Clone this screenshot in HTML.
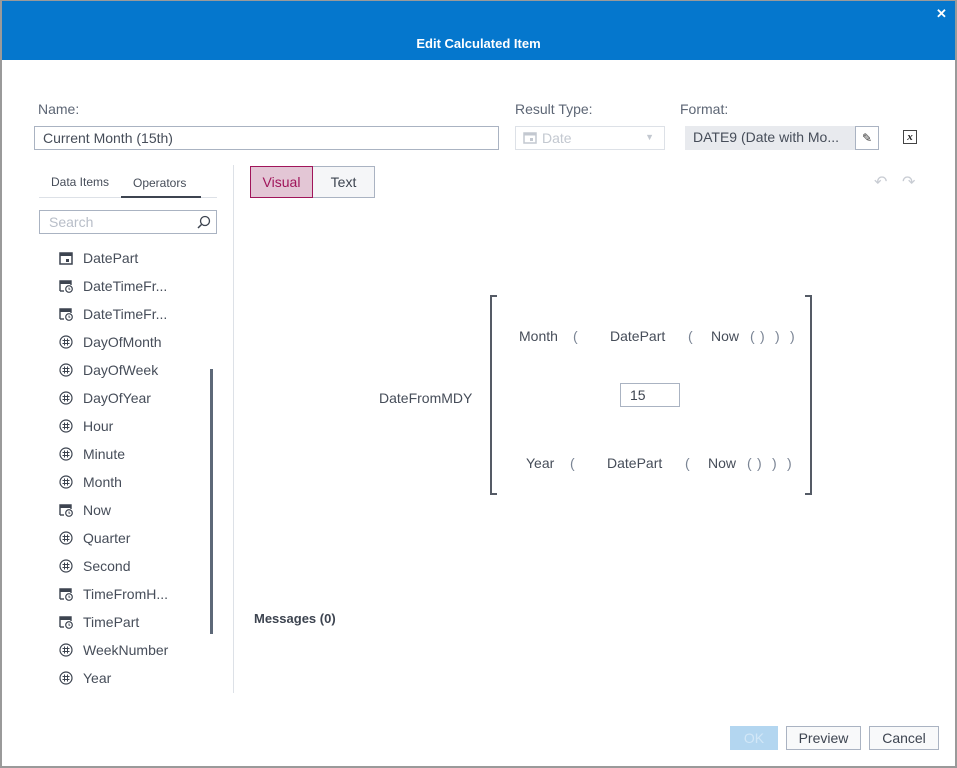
<!DOCTYPE html>
<html><head><meta charset="utf-8"><style>
*{box-sizing:border-box;margin:0;padding:0}
body{width:957px;height:768px;position:relative;background:#fff;font-family:"Liberation Sans",sans-serif;color:#3d4450;overflow:hidden}
.a{position:absolute;white-space:nowrap}
.frame{position:absolute;left:0;top:0;width:957px;height:768px;border:2px solid #9a9a9a;border-top-width:1px}
.hdr{position:absolute;left:2px;top:1px;width:953px;height:59px;background:#0577cd}
.lbl{font-size:14px;color:#5d6675}
.li{font-size:14px;color:#464d59}
.ic{position:absolute;left:59px;width:14px;height:14px}
.g{font-size:14px;color:#464d59}
.p{font-size:14px;color:#7a8494}
</style></head><body>
<div class="hdr"></div>
<div class="a" style="left:0;top:36px;width:957px;text-align:center;color:#fff;font-weight:bold;font-size:13px">Edit Calculated Item</div>
<div class="a" style="left:936px;top:6px;color:#fff;font-weight:bold;font-size:13px">✕</div>
<div class="frame"></div>

<div class="a lbl" style="left:38px;top:101px">Name:</div>
<div class="a" style="left:34px;top:126px;width:465px;height:24px;border:1px solid #aab3c2;font-size:14px;padding:3px 8px;color:#464d59">Current Month (15th)</div>
<div class="a lbl" style="left:515px;top:101px">Result Type:</div>
<div class="a" style="left:515px;top:126px;width:150px;height:24px;border:1px solid #dde1e7;font-size:14px;color:#c3c8d0;padding:3px 0 0 26px">Date<span style="position:absolute;right:10px;top:5px;font-size:9px">▼</span></div>
<svg class="a" style="left:523px;top:130px" width="14" height="14"><rect x="1" y="3" width="12" height="10" fill="none" stroke="#c3c8d0" stroke-width="1.5"/><rect x="1" y="3" width="12" height="2.5" fill="#c3c8d0"/><rect x="7" y="8" width="3" height="3" fill="#c3c8d0"/></svg>
<div class="lbl a" style="left:680px;top:101px">Format:</div>
<div class="a" style="left:685px;top:126px;width:170px;height:24px;background:#e8eaee;font-size:14px;padding:3px 8px;color:#464d59">DATE9 (Date with Mo...</div>
<div class="a" style="left:855px;top:126px;width:24px;height:24px;border:1px solid #aab3c2;background:#fff;font-size:12px;text-align:center;line-height:22px;color:#333">✎</div>
<div class="a" style="left:903px;top:130px;width:14px;height:14px;border:1px solid #444;font-family:'Liberation Serif',serif;font-style:italic;font-weight:bold;font-size:11px;text-align:center;line-height:12px;color:#222">x</div>

<div class="a" style="left:51px;top:175px;font-size:12px;color:#464d59">Data Items</div>
<div class="a" style="left:133px;top:176px;font-size:12px;color:#464d59">Operators</div>
<div class="a" style="left:39px;top:197px;width:178px;height:1px;background:#dde1e7"></div>
<div class="a" style="left:121px;top:196px;width:80px;height:2px;background:#3d4450"></div>
<div class="a" style="left:39px;top:210px;width:178px;height:24px;border:1px solid #aab3c2;font-size:14px;color:#b8bec8;padding:3px 9px">Search</div>
<svg class="a" style="left:196px;top:214px" width="16" height="16"><circle cx="9" cy="7" r="4.5" fill="none" stroke="#3d4450" stroke-width="1.3"/><line x1="5.5" y1="10.5" x2="2" y2="14" stroke="#3d4450" stroke-width="1.5"/></svg>
<div class="a" style="left:233px;top:165px;width:1px;height:528px;background:#dde1e7"></div>
<div class="a" style="left:210px;top:369px;width:3px;height:265px;background:#5d6878"></div>

<div class="a" style="left:250px;top:166px;width:63px;height:32px;background:#e3c6d5;border:1px solid #a0155a;font-size:14px;color:#a0155a;text-align:center;line-height:30px">Visual</div>
<div class="a" style="left:313px;top:166px;width:62px;height:32px;background:#f5f6f8;border:1px solid #aab3c2;border-left:none;font-size:14px;text-align:center;line-height:30px">Text</div>
<div class="a" style="left:874px;top:172px;font-size:16px;color:#c8ccd3">↶</div>
<div class="a" style="left:902px;top:172px;font-size:16px;color:#c8ccd3">↷</div>

<div id="list"></div>
<script>
var items=[["DatePart","d"],["DateTimeFr...","c"],["DateTimeFr...","c"],["DayOfMonth","n"],["DayOfWeek","n"],["DayOfYear","n"],["Hour","n"],["Minute","n"],["Month","n"],["Now","c"],["Quarter","n"],["Second","n"],["TimeFromH...","c"],["TimePart","c"],["WeekNumber","n"],["Year","n"]];
var h="";
items.forEach(function(it,i){var y=258+i*28;
h+='<div class="a li" style="left:83px;top:'+(y-8)+'px">'+it[0]+'</div>';
var s='<svg class="ic" style="top:'+(y-7)+'px" width="14" height="14">';
if(it[1]=="n"){s+='<circle cx="7" cy="7" r="6" fill="none" stroke="#3d4450" stroke-width="1.2"/><path d="M5.5 3.5v7M8.5 3.5v7M3.5 5.5h7M3.5 8.5h7" stroke="#3d4450" stroke-width="1"/>';}
else if(it[1]=="d"){s+='<rect x="1" y="2" width="12" height="11" fill="none" stroke="#3d4450" stroke-width="1.5"/><rect x="1" y="2" width="12" height="3" fill="#3d4450"/><rect x="7" y="8" width="3" height="3" fill="#3d4450"/>';}
else{s+='<path d="M1 12V2h11v4" fill="none" stroke="#3d4450" stroke-width="1.4"/><rect x="1" y="2" width="11" height="3" fill="#3d4450"/><path d="M1 12h4" stroke="#3d4450" stroke-width="1.4"/><circle cx="10" cy="10" r="3.3" fill="#fff" stroke="#3d4450" stroke-width="1.2"/><path d="M10 8.5v1.7h1.3" stroke="#3d4450" stroke-width="0.9" fill="none"/>';}
s+='</svg>';h+=s;});
document.getElementById("list").innerHTML=h;
</script>

<div class="a g" style="left:379px;top:390px">DateFromMDY</div>
<svg class="a" style="left:489px;top:295px" width="325" height="201"><path d="M8 1H2V199H8M316 1H322V199H316" fill="none" stroke="#555b66" stroke-width="2"/></svg>
<div class="a g" style="left:519px;top:328px">Month</div>
<div class="a p" style="left:573px;top:328px">(</div>
<div class="a g" style="left:610px;top:328px">DatePart</div>
<div class="a p" style="left:688px;top:328px">(</div>
<div class="a g" style="left:711px;top:328px">Now</div>
<div class="a p" style="left:750px;top:328px">(</div>
<div class="a p" style="left:760px;top:328px">)</div>
<div class="a p" style="left:775px;top:328px">)</div>
<div class="a p" style="left:790px;top:328px">)</div>
<div class="a" style="left:620px;top:383px;width:60px;height:24px;border:1px solid #aab3c2;font-size:14px;padding:3px 9px">15</div>
<div class="a g" style="left:526px;top:455px">Year</div>
<div class="a p" style="left:570px;top:455px">(</div>
<div class="a g" style="left:607px;top:455px">DatePart</div>
<div class="a p" style="left:685px;top:455px">(</div>
<div class="a g" style="left:708px;top:455px">Now</div>
<div class="a p" style="left:747px;top:455px">(</div>
<div class="a p" style="left:757px;top:455px">)</div>
<div class="a p" style="left:772px;top:455px">)</div>
<div class="a p" style="left:787px;top:455px">)</div>

<div class="a" style="left:254px;top:611px;font-size:13px;font-weight:bold;color:#3d4450">Messages (0)</div>

<div class="a" style="left:730px;top:726px;width:48px;height:24px;background:#b3d6f0;color:#d2e7f7;font-size:14px;text-align:center;line-height:24px">OK</div>
<div class="a" style="left:786px;top:726px;width:75px;height:24px;border:1px solid #aab3c2;background:#f8f9fa;font-size:14px;text-align:center;line-height:22px">Preview</div>
<div class="a" style="left:869px;top:726px;width:70px;height:24px;border:1px solid #aab3c2;background:#f8f9fa;font-size:14px;text-align:center;line-height:22px">Cancel</div>
</body></html>
